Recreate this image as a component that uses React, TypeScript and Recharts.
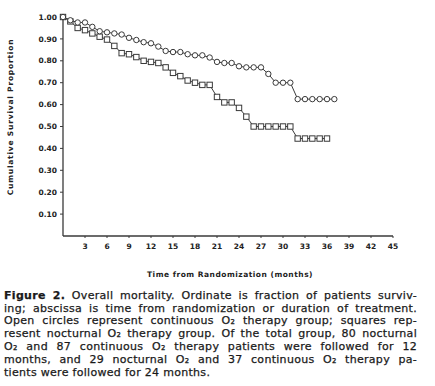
import React from 'react';
import { LineChart, Line, XAxis, YAxis } from 'recharts';

const months = [0,1,2,3,4,5,6,7,8,9,10,11,12,13,14,15,16,17,18,19,20,21,22,23,24,25,26,27,28,29,30,31,32,33,34,35,36,37];
const continuousO2 = [1.0,0.985,0.975,0.975,0.955,0.935,0.93,0.925,0.92,0.905,0.895,0.885,0.88,0.865,0.845,0.84,0.84,0.83,0.825,0.825,0.815,0.795,0.79,0.79,0.775,0.77,0.77,0.77,0.74,0.70,0.70,0.70,0.625,0.625,0.625,0.625,0.625,0.625];
const nocturnalO2 = [1.0,0.98,0.95,0.94,0.925,0.91,0.897,0.868,0.835,0.83,0.817,0.80,0.795,0.79,0.77,0.745,0.73,0.71,0.70,0.69,0.69,0.635,0.61,0.61,0.585,0.545,0.50,0.50,0.50,0.50,0.50,0.50,0.445,0.445,0.445,0.445,0.445];
const xTicks = [3,6,9,12,15,18,21,24,27,30,33,36,39,42,45];
const yTicks = [0.1,0.2,0.3,0.4,0.5,0.6,0.7,0.8,0.9,1.0];

const data = months.map((m, i) => ({
  month: m,
  continuous: continuousO2[i],
  nocturnal: i < nocturnalO2.length ? nocturnalO2[i] : undefined,
}));

const INK = '#3a3a3a';
const tickFont = { fontFamily: 'DejaVu Sans', fontWeight: 700, fontSize: 7.5, fill: '#222' };

const CircleDot = (props: any) => {
  const { cx, cy, index } = props;
  if (cx == null || cy == null) return <g key={'c' + index} />;
  return <circle key={'c' + index} cx={cx} cy={cy} r={2.7} fill="#fff" stroke={INK} strokeWidth={1} />;
};
const SquareDot = (props: any) => {
  const { cx, cy, index, value } = props;
  if (cx == null || cy == null || value == null) return <g key={'s' + index} />;
  return <rect key={'s' + index} x={cx - 2.7} y={cy - 2.7} width={5.4} height={5.4} fill="#fff" stroke={INK} strokeWidth={1} />;
};

const lineStyle: React.CSSProperties = { textAlign: 'justify', textAlignLast: 'justify', whiteSpace: 'nowrap', height: 12.8 };

export default function App() {
  return (
    <div style={{ position: 'absolute', left: 0, top: 0, width: 435, height: 386, background: '#fff', overflow: 'hidden' }}>
      <LineChart width={435} height={285} data={data} margin={{ top: 17, right: 42, bottom: 19, left: 0 }}>
        <XAxis
          dataKey="month"
          type="number"
          domain={[0, 45]}
          ticks={xTicks}
          tickSize={2}
          tickMargin={6}
          height={30}
          axisLine={{ stroke: INK, strokeWidth: 1.3 }}
          tickLine={{ stroke: INK }}
          tick={tickFont}
        />
        <YAxis
          type="number"
          domain={[0, 1]}
          ticks={yTicks}
          width={63}
          tickSize={3}
          tickMargin={3}
          tickFormatter={(v: number) => v.toFixed(2)}
          axisLine={{ stroke: INK, strokeWidth: 1.3 }}
          tickLine={{ stroke: INK }}
          tick={tickFont}
        />
        <Line
          type="linear"
          dataKey="nocturnal"
          stroke={INK}
          strokeWidth={1}
          dot={SquareDot}
          isAnimationActive={false}
          connectNulls={false}
        />
        <Line
          type="linear"
          dataKey="continuous"
          stroke={INK}
          strokeWidth={1}
          dot={CircleDot}
          isAnimationActive={false}
        />
      </LineChart>

      <div style={{ position: 'absolute', left: 130, top: 270, width: 200, textAlign: 'center', fontFamily: 'DejaVu Sans', fontWeight: 700, fontSize: 7.5, letterSpacing: 0.5, color: '#222', lineHeight: '10px', whiteSpace: 'nowrap' }}>
        Time from Randomization (months)
      </div>
      <div style={{ position: 'absolute', left: 11 - 100, top: 117 - 5, width: 200, height: 10, textAlign: 'center', transform: 'rotate(-90deg)', fontFamily: 'DejaVu Sans', fontWeight: 700, fontSize: 7.5, letterSpacing: 0.8, color: '#222', lineHeight: '10px', whiteSpace: 'nowrap' }}>
        Cumulative Survival Proportion
      </div>

      <div style={{ position: 'absolute', left: 4, top: 289.8, width: 413, fontFamily: '"DejaVu Sans"', fontSize: 11, letterSpacing: 0.3, lineHeight: '12.8px', color: '#1a1a1a', WebkitTextStroke: '0.25px #1a1a1a' }}>
        <div style={lineStyle}><b>Figure 2.</b> Overall mortality. Ordinate is fraction of patients surviv-</div>
        <div style={lineStyle}>ing; abscissa is time from randomization or duration of treatment.</div>
        <div style={lineStyle}>Open circles represent continuous O₂ therapy group; squares rep-</div>
        <div style={lineStyle}>resent nocturnal O₂ therapy group. Of the total group, 80 nocturnal</div>
        <div style={lineStyle}>O₂ and 87 continuous O₂ therapy patients were followed for 12</div>
        <div style={lineStyle}>months, and 29 nocturnal O₂ and 37 continuous O₂ therapy pa-</div>
        <div style={{ whiteSpace: 'nowrap', height: 12.8 }}>tients were followed for 24 months.</div>
      </div>
    </div>
  );
}
